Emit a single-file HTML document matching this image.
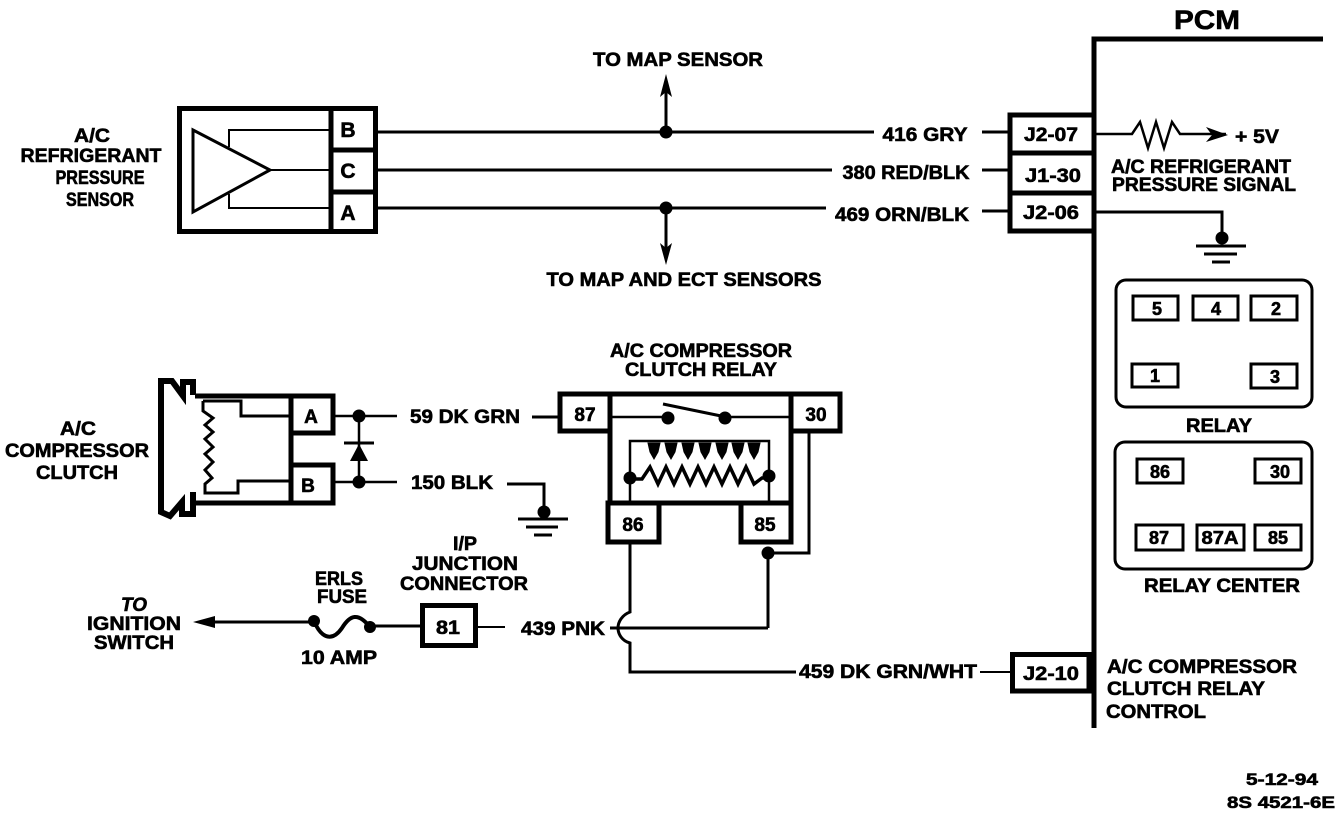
<!DOCTYPE html>
<html><head><meta charset="utf-8"><style>
html,body{margin:0;padding:0;background:#fff}
svg{display:block}
text{font-family:"Liberation Sans",sans-serif;font-weight:bold;fill:#000;font-size:19px;stroke:#000;stroke-width:.6}
.m{text-anchor:middle}
.l{fill:none;stroke:#000;stroke-width:3}
.b{fill:none;stroke:#000;stroke-width:5}
.t{fill:none;stroke:#000;stroke-width:2}
.s{font-size:18px}
</style></head><body>
<svg width="1344" height="816" viewBox="0 0 1344 816" xmlns="http://www.w3.org/2000/svg">
<!-- PCM -->
<path d="M1323 39H1094V728" fill="none" stroke="#000" stroke-width="5"/>
<text x="1207" y="29" class="m" style="font-size:27px" textLength="66" lengthAdjust="spacingAndGlyphs">PCM</text>

<!-- Sensor -->
<rect x="179.500" y="108.500" width="196" height="123" class="b"/>
<path d="M331 107V233M331 150H377M331 192H377" class="b"/>
<path d="M193 130L270 170L193 212Z" class="l"/>
<path d="M229 147V130H331M270 170H331M229 194V208H331" class="t"/>
<text x="348" y="137" class="m" style="font-size:21px">B</text><text x="348" y="178" class="m" style="font-size:21px">C</text><text x="348" y="220" class="m" style="font-size:21px">A</text>
<text x="92" y="142" class="m" textLength="36" lengthAdjust="spacingAndGlyphs">A/C</text>
<text x="91" y="162" class="m" textLength="141" lengthAdjust="spacingAndGlyphs">REFRIGERANT</text>
<text x="100" y="184" class="m" textLength="89" lengthAdjust="spacingAndGlyphs">PRESSURE</text>
<text x="100" y="206" class="m" textLength="68" lengthAdjust="spacingAndGlyphs">SENSOR</text>

<!-- Top wires -->
<path d="M377 132H874M377 170H832M377 208H826" class="l"/>
<path d="M982 132H1010M982 170H1010M982 211H1010" class="l"/>
<circle cx="666" cy="132" r="6.500"/><circle cx="666" cy="208" r="6.500"/>
<path d="M666 132V82M666 208V255" class="l"/>
<path d="M660 97L666 74L672 97L666 92ZM660 243L666 265L672 243L666 248Z"/>
<text x="678" y="66" class="m" textLength="170" lengthAdjust="spacingAndGlyphs">TO MAP SENSOR</text>
<text x="684" y="286" class="m" textLength="275" lengthAdjust="spacingAndGlyphs">TO MAP AND ECT SENSORS</text>
<text x="925" y="141" class="m" textLength="85" lengthAdjust="spacingAndGlyphs">416 GRY</text>
<text x="906" y="179" class="m" textLength="127" lengthAdjust="spacingAndGlyphs">380 RED/BLK</text>
<text x="902" y="221" class="m" textLength="134" lengthAdjust="spacingAndGlyphs">469 ORN/BLK</text>

<!-- J connectors -->
<path d="M1094 115H1010V231H1094M1010 153H1094M1010 193H1094" class="b"/>
<text x="1051" y="141" class="m" textLength="54" lengthAdjust="spacingAndGlyphs">J2-07</text>
<text x="1053" y="182" class="m" textLength="56" lengthAdjust="spacingAndGlyphs">J1-30</text>
<text x="1051" y="219" class="m" textLength="56" lengthAdjust="spacingAndGlyphs">J2-06</text>
<path d="M1096 134H1132L1140 122L1148 148L1156 122L1164 148L1172 122L1180 134H1226" class="t" style="stroke-width:2.500"/>
<path d="M1206 127L1228 135L1206 142L1212 135Z"/>
<text x="1257" y="143" class="m" textLength="44" lengthAdjust="spacingAndGlyphs">+ 5V</text>
<text x="1201" y="173" class="m" textLength="180" lengthAdjust="spacingAndGlyphs">A/C REFRIGERANT</text>
<text x="1204" y="191" class="m" textLength="184" lengthAdjust="spacingAndGlyphs">PRESSURE SIGNAL</text>
<path d="M1096 212H1222V238" class="l"/>
<circle cx="1222" cy="238" r="6.500"/>
<path d="M1196 246H1246M1204 254H1237M1212 262H1230" class="l"/>

<!-- Relay diagrams -->
<rect x="1116" y="280" width="196" height="127" rx="10" class="l"/>
<path d="M1133 296H1178V320H1133ZM1193 296H1238V320H1193ZM1251 296H1297V320H1251ZM1132 364H1178V387H1132ZM1251 364H1297V388H1251Z" class="l"/>
<text x="1157" y="315" class="m s">5</text><text x="1216" y="315" class="m s">4</text><text x="1276" y="315" class="m s">2</text>
<text x="1155" y="382" class="m s">1</text><text x="1275" y="383" class="m s">3</text>
<text x="1219" y="432" class="m" textLength="66" lengthAdjust="spacingAndGlyphs">RELAY</text>
<rect x="1115" y="442" width="197" height="127" rx="10" class="l"/>
<path d="M1137 459H1183V483H1137ZM1255 459H1301V483H1255ZM1136 525H1183V550H1136ZM1197 525H1244V550H1197ZM1255 525H1301V550H1255Z" class="l"/>
<text x="1160" y="478" class="m s">86</text><text x="1280" y="478" class="m s">30</text>
<text x="1159" y="544" class="m s">87</text><text x="1220" y="544" class="m s" textLength="37" lengthAdjust="spacingAndGlyphs">87A</text><text x="1278" y="544" class="m s">85</text>
<text x="1222" y="592" class="m" textLength="156" lengthAdjust="spacingAndGlyphs">RELAY CENTER</text>

<!-- Clutch -->
<path d="M195 396H333V433H291V465H333V503H195" class="b"/>
<path d="M291 394V505" class="b"/>
<path d="M193 395V382H183V396L172 381H161V512L170 516L182 502V514H193V492" class="b" style="stroke-width:6"/>
<path d="M203 401V411L213 418L205 425L213 432L205 439L213 447L205 454L213 462L205 470L212 478L205 484V493H238V481H291" class="t" style="stroke-width:3"/>
<path d="M203 401H241V416H291" class="t" style="stroke-width:3"/>
<text x="311" y="423" class="m">A</text><text x="308" y="492" class="m">B</text>
<text x="78" y="435" class="m" textLength="36" lengthAdjust="spacingAndGlyphs">A/C</text>
<text x="77" y="457" class="m" textLength="144" lengthAdjust="spacingAndGlyphs">COMPRESSOR</text>
<text x="77" y="479" class="m" textLength="82" lengthAdjust="spacingAndGlyphs">CLUTCH</text>
<path d="M333 416H397M333 482H397M359 416V482" class="t" style="stroke-width:2.500"/>
<circle cx="359" cy="416" r="6.500"/><circle cx="359" cy="482" r="6.500"/>
<path d="M344 443H374" class="l"/><path d="M359 444L350 461H368Z"/>
<text x="465" y="423" class="m" textLength="110" lengthAdjust="spacingAndGlyphs">59 DK GRN</text>
<text x="452" y="489" class="m" textLength="82" lengthAdjust="spacingAndGlyphs">150 BLK</text>
<path d="M507 484H544V512" class="l"/><circle cx="544" cy="512" r="6.500"/>
<path d="M518 519H568M526 527H558M534 535H552" class="l"/>
<path d="M532 417H560" class="l"/>

<!-- Relay -->
<path d="M560 394H840V431H791V503H610V431H560Z" class="b"/>
<path d="M610 394V503M791 394V503" class="b"/>
<path d="M608 503H659V542H608ZM741 503H791V542H741Z" class="b"/>
<path d="M610 417H668M726 417H791" class="t" style="stroke-width:2.500"/>
<path d="M663 404L726 417" class="l"/>
<circle cx="668" cy="418" r="6.500"/><circle cx="725" cy="418" r="6.500"/>
<text x="585" y="421" class="m">87</text><text x="816" y="421" class="m">30</text>
<text x="633" y="531" class="m">86</text><text x="765" y="531" class="m">85</text>
<path d="M630 503V441H769V503" class="t" style="stroke-width:2.500"/>
<path d="M630 479L642 479L650 467L658 484L666 467L674 484L682 467L690 484L698 467L706 484L714 467L722 484L730 467L738 484L746 467L754 484L762 478H769" class="t" style="stroke-width:3.500"/>
<circle cx="630" cy="478" r="6.500"/><circle cx="769" cy="476" r="6.500"/>
<path d="M648 443L650 452L654 459L658 452L660 443ZM665 443L667 452L671 459L675 452L677 443ZM682 443L684 452L688 459L692 452L694 443ZM699 443L701 452L705 459L709 452L711 443ZM716 443L718 452L722 459L726 452L728 443ZM732 443L734 452L738 459L742 452L744 443ZM748 443L750 452L754 459L758 452L760 443Z" fill="#000" stroke="#000"/>
<path d="M809 431V553H768V628" class="l"/>
<circle cx="768" cy="553" r="6.500"/>
<text x="701" y="357" class="m" textLength="182" lengthAdjust="spacingAndGlyphs">A/C COMPRESSOR</text>
<text x="701" y="376" class="m" textLength="152" lengthAdjust="spacingAndGlyphs">CLUTCH RELAY</text>

<!-- Lower wires -->
<path d="M630 544V612C622 615 618 622 618 628C618 634 622 641 630 643V672H796" class="l"/>
<path d="M610 628H768" class="l"/>
<path d="M980 672H1012" class="t"/>
<path d="M1012.500 654.500H1089V691H1012.500Z" class="b"/>
<text x="1051" y="680" class="m" textLength="56" lengthAdjust="spacingAndGlyphs">J2-10</text>
<text x="888" y="678" class="m" textLength="178" lengthAdjust="spacingAndGlyphs">459 DK GRN/WHT</text>
<text x="1202" y="673" class="m" textLength="190" lengthAdjust="spacingAndGlyphs">A/C COMPRESSOR</text>
<text x="1186" y="695" class="m" textLength="158" lengthAdjust="spacingAndGlyphs">CLUTCH RELAY</text>
<text x="1156" y="718" class="m" textLength="100" lengthAdjust="spacingAndGlyphs">CONTROL</text>

<!-- Fuse line -->
<path d="M205 622H314" class="l"/>
<path d="M193 622L215 616V628Z"/>
<circle cx="314" cy="621" r="6"/><circle cx="370" cy="627" r="6"/>
<path d="M314 621C322 640 333 641 342 628C350 615 358 612 370 627" fill="none" stroke="#000" stroke-width="4"/>
<path d="M370 626H421" class="l"/>
<path d="M478 627H505" class="t"/>
<rect x="422.500" y="605.500" width="53" height="40" class="b"/>
<text x="448" y="634" class="m" textLength="24" lengthAdjust="spacingAndGlyphs">81</text>
<text x="563" y="635" class="m" textLength="84" lengthAdjust="spacingAndGlyphs">439 PNK</text>
<text x="339" y="585" class="m" textLength="48" lengthAdjust="spacingAndGlyphs">ERLS</text>
<text x="342" y="603" class="m" textLength="50" lengthAdjust="spacingAndGlyphs">FUSE</text>
<text x="339" y="664" class="m" textLength="76" lengthAdjust="spacingAndGlyphs">10 AMP</text>
<text x="465" y="550" class="m" textLength="24" lengthAdjust="spacingAndGlyphs">I/P</text>
<text x="465" y="570" class="m" textLength="106" lengthAdjust="spacingAndGlyphs">JUNCTION</text>
<text x="464" y="590" class="m" textLength="128" lengthAdjust="spacingAndGlyphs">CONNECTOR</text>
<text x="134" y="611" class="m" font-style="italic" textLength="26" lengthAdjust="spacingAndGlyphs">TO</text>
<text x="134" y="630" class="m" textLength="94" lengthAdjust="spacingAndGlyphs">IGNITION</text>
<text x="134" y="649" class="m" textLength="80" lengthAdjust="spacingAndGlyphs">SWITCH</text>

<!-- Footer -->
<text x="1282" y="785" class="m" style="font-size:17px" textLength="72" lengthAdjust="spacingAndGlyphs">5-12-94</text>
<text x="1281" y="808" class="m" style="font-size:17px" textLength="108" lengthAdjust="spacingAndGlyphs">8S 4521-6E</text>
</svg>
</body></html>
